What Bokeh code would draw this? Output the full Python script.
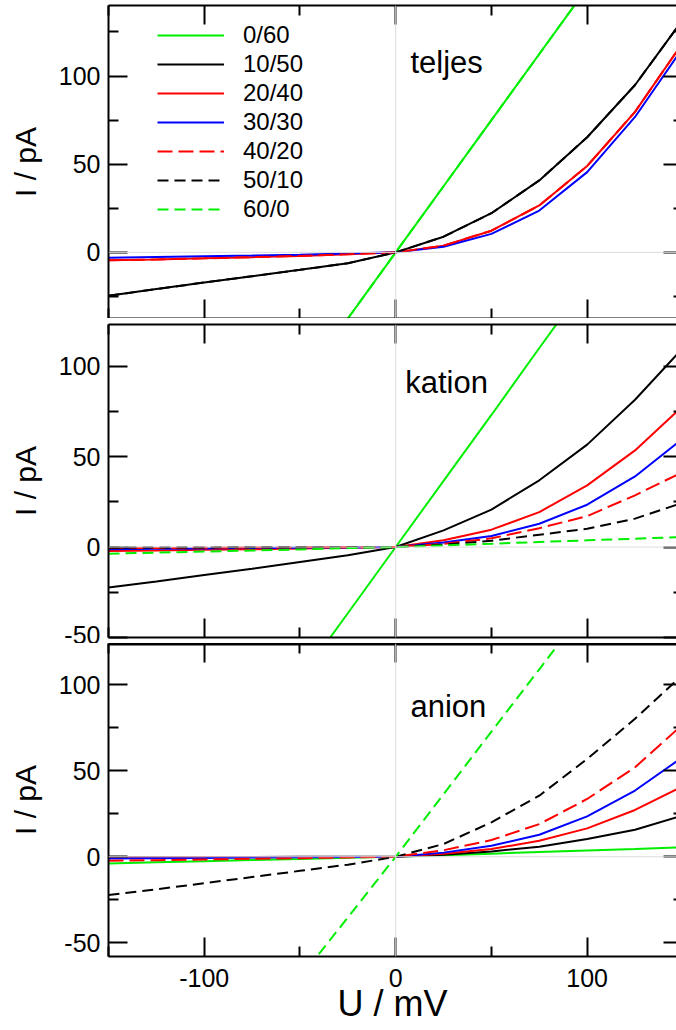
from bokeh.plotting import figure
from bokeh.layouts import column
from bokeh.models import (Range1d, FixedTicker, LinearAxis, Span, Label, Legend,
                          LegendItem, PrintfTickFormatter, CustomJSTickFormatter)
from bokeh.embed import file_html
from bokeh.resources import INLINE

# ---------------- data ----------------
U = [-150, -125, -100, -75, -50, -25, 0, 25, 50, 75, 100, 125, 150]
series_labels = ["0/60", "10/50", "20/40", "30/30", "40/20", "50/10", "60/0"]

# teljes (total)
t_0_60 = [-225, -187.5, -150, -112.5, -75, -37.5, 0, 37.5, 75, 112.5, 150, 187.5, 225]
t_10_50 = [-24.6, -20.8, -17.1, -13.5, -9.9, -6.2, 0, 8.9, 22.2, 40.8, 65.3, 94.9, 132]
t_20_40 = [-4.5, -4.0, -3.4, -2.7, -2.0, -1.1, 0, 3.8, 12.3, 26.6, 49.0, 79.7, 119]
t_30_30 = [-3.0, -2.6, -2.2, -1.8, -1.3, -0.7, 0, 3.2, 10.5, 23.7, 45.5, 76.8, 116]
t_40_20 = [-4.5, -4.0, -3.4, -2.7, -2.0, -1.1, 0, 3.8, 12.3, 26.6, 49.0, 79.7, 119]
t_50_10 = [-24.6, -20.8, -17.1, -13.5, -9.9, -6.2, 0, 8.9, 22.2, 40.8, 65.3, 94.9, 132]
t_60_0 = [-225, -187.5, -150, -112.5, -75, -37.5, 0, 37.5, 75, 112.5, 150, 187.5, 225]

# kation
k_0_60 = [-220, -183, -146.5, -110, -73, -36.6, 0, 36.6, 73, 110, 146.5, 183, 220]
k_10_50 = [-22.4, -19.0, -15.5, -12.0, -8.3, -4.6, 0, 9.2, 20.7, 36.9, 56.6, 81.4, 110]
k_20_40 = [-2.2, -1.9, -1.5, -1.2, -0.8, -0.4, 0, 3.7, 9.6, 19.3, 34.1, 53.4, 78]
k_30_30 = [-1.2, -1.0, -0.8, -0.6, -0.4, -0.2, 0, 2.5, 6.1, 12.9, 23.4, 39.0, 60]
k_40_20 = [-0.6, -0.5, -0.4, -0.3, -0.2, -0.1, 0, 1.8, 4.8, 10.4, 17.1, 28.6, 41.5]
k_50_10 = [-0.3, -0.25, -0.2, -0.15, -0.1, -0.05, 0, 1.3, 3.5, 6.8, 10.1, 15.7, 24.5]
k_60_0 = [-3.7, -3.1, -2.5, -1.9, -1.3, -0.6, 0, 0.9, 1.8, 2.8, 3.7, 4.6, 5.6]

# anion
a_0_60 = [-3.9, -3.2, -2.6, -1.9, -1.3, -0.6, 0, 0.9, 1.8, 2.7, 3.6, 4.5, 5.5]
a_10_50 = [-0.2, -0.17, -0.13, -0.1, -0.07, -0.03, 0, 1.2, 3.1, 5.8, 10.3, 15.7, 24]
a_20_40 = [-0.5, -0.4, -0.33, -0.25, -0.17, -0.08, 0, 1.7, 4.5, 9.3, 16.5, 27.2, 41]
a_30_30 = [-1.0, -0.85, -0.7, -0.5, -0.35, -0.17, 0, 2.4, 6.4, 12.8, 23.5, 38.5, 58]
a_40_20 = [-2.3, -2.0, -1.6, -1.2, -0.8, -0.4, 0, 3.8, 9.7, 19.0, 33.6, 52.0, 77]
a_50_10 = [-22.3, -18.9, -15.4, -11.8, -8.2, -4.6, 0, 7.4, 20.0, 35.5, 56.9, 80.2, 106]
a_60_0 = [-212, -176, -141, -106, -70.5, -35.3, 0, 36.4, 72.8, 109, 145.5, 182, 218]

x_ticks = [-100, 0, 100]
x_minor = [-150, -50, 50, 150]
y_ticks = [-50, 0, 50, 100]
y_minor = [-25, 25, 75, 125]

# ---------------- styles ----------------
FONT = "Liberation Sans"
styles = [
    dict(line_color="#00ee00", line_dash="solid"),
    dict(line_color="#000000", line_dash="solid"),
    dict(line_color="#ff0000", line_dash="solid"),
    dict(line_color="#0000ff", line_dash="solid"),
    dict(line_color="#ff0000", line_dash="15 6"),
    dict(line_color="#000000", line_dash="11 6"),
    dict(line_color="#00ee00", line_dash="11 6"),
]


def tick_axis(ticks, minor, tin, minin, labels=False):
    ax = LinearAxis(ticker=FixedTicker(ticks=ticks, minor_ticks=minor),
                    major_tick_in=tin, major_tick_out=0,
                    minor_tick_in=minin, minor_tick_out=0,
                    major_tick_line_width=2, minor_tick_line_width=2,
                    axis_line_width=2, axis_line_color="black",
                    major_tick_line_color="black", minor_tick_line_color="black")
    if labels:
        ax.formatter = PrintfTickFormatter(format="%d")
        ax.major_label_text_font = FONT
        ax.major_label_text_font_size = "25px"
        ax.major_label_text_color = "black"
        ax.major_label_standoff = 8
    else:
        ax.formatter = CustomJSTickFormatter(code="return ''")
        ax.major_label_text_font_size = "0px"
        ax.major_label_standoff = 0
    return ax


def make_panel(ylo, yhi, data, text, tx, ty, border_top, border_bottom,
               top_line=2, last=False):
    p = figure(frame_width=568, frame_height=313,
               x_range=Range1d(-150, 146.66), y_range=Range1d(ylo, yhi),
               output_backend="svg", toolbar_location=None,
               x_axis_location=None, y_axis_location=None,
               min_border_left=108, min_border_right=0,
               min_border_top=border_top, min_border_bottom=border_bottom,
               outline_line_color=None, background_fill_color="white",
               border_fill_color="white")
    p.grid.visible = False

    p.add_layout(Span(location=0, dimension="width", line_color="#dcdcdc", line_width=1))
    p.add_layout(Span(location=0, dimension="height", line_color="#dcdcdc", line_width=1))

    renderers = []
    for ys, st in zip(data, styles):
        r = p.line(U, ys, line_width=2, **st)
        renderers.append(r)

    left = tick_axis(y_ticks, y_minor, 19, 10, labels=True)
    left.axis_label = "I / pA"
    left.axis_label_text_font = FONT
    left.axis_label_text_font_size = "30px"
    left.axis_label_text_font_style = "normal"
    left.axis_label_text_color = "black"
    left.axis_label_standoff = 14
    p.add_layout(left, "left")

    right = tick_axis(y_ticks, y_minor, 13, 3)
    right.axis_line_color = None
    p.add_layout(right, "right")

    top = tick_axis(x_ticks, x_minor, 19, 10)
    top.axis_line_width = top_line
    p.add_layout(top, "above")

    bottom = tick_axis(x_ticks, x_minor, 19, 10, labels=last)
    if last:
        bottom.major_label_standoff = 12
        bottom.axis_label = "U / mV"
        bottom.axis_label_text_font = FONT
        bottom.axis_label_text_font_size = "36px"
        bottom.axis_label_text_font_style = "normal"
        bottom.axis_label_text_color = "black"
        bottom.axis_label_standoff = -7
    p.add_layout(bottom, "below")

    p.add_layout(Label(x=tx, y=ty, text=text, text_font=FONT, text_font_size="31px",
                       text_color="black", text_baseline="alphabetic"))
    return p, renderers


p1, r1 = make_panel(-37.5, 140,
                    [t_0_60, t_10_50, t_20_40, t_30_30, t_40_20, t_50_10, t_60_0],
                    "teljes", 7.7, 107.4, 5, 0)
p2, r2 = make_panel(-50, 123,
                    [k_0_60, k_10_50, k_20_40, k_30_30, k_40_20, k_50_10, k_60_0],
                    "kation", 5.0, 91.0, 6, 6)
p3, r3 = make_panel(-58, 124,
                    [a_0_60, a_10_50, a_20_40, a_30_30, a_40_20, a_50_10, a_60_0],
                    "anion", 7.7, 87.4, 0, 0, top_line=4, last=True)

legend = Legend(items=[LegendItem(label=lab, renderers=[r]) for lab, r in zip(series_labels, r1)],
                location=(49, 95), glyph_width=67, glyph_height=20, label_standoff=19,
                spacing=1, padding=0, margin=0, border_line_color=None,
                background_fill_alpha=0, label_text_font=FONT, label_text_font_size="24px",
                label_text_color="black", label_height=20)
p1.add_layout(legend)

layout = column(p1, p2, p3, spacing=0)
open("out.html", "w").write(file_html(layout, INLINE))
